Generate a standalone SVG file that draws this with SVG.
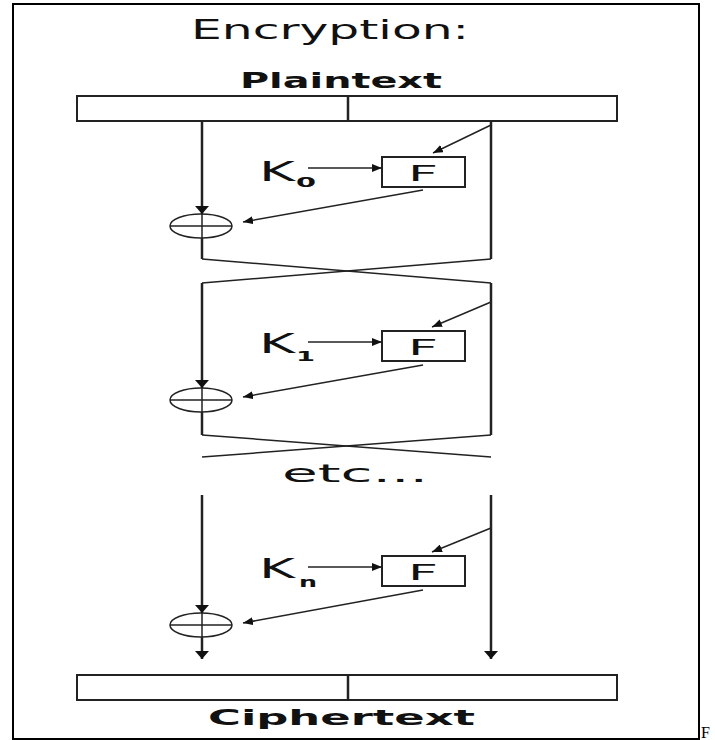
<svg xmlns="http://www.w3.org/2000/svg" width="715" height="740" viewBox="0 0 715 740">
<style>
.t{font-family:"DejaVu Sans","Liberation Sans",sans-serif;fill:#111}
.b{font-weight:bold}
.box{fill:#fff;stroke:#222;stroke-width:2}
.v{stroke:#222;stroke-width:2.5;fill:none}
.d{stroke:#222;stroke-width:1.5;fill:none}
.x{fill:none;stroke:#222;stroke-width:1.5}
</style>
<defs>
<marker id="ah" markerUnits="userSpaceOnUse" markerWidth="10" markerHeight="8" refX="10" refY="4" orient="auto">
<path d="M0,0 L10,4 L0,8 z" fill="#111"/>
</marker>
<marker id="av" markerUnits="userSpaceOnUse" markerWidth="8" markerHeight="14" refX="8" refY="7" orient="auto">
<path d="M0,0 L8,7 L0,14 z" fill="#111"/>
</marker>
</defs>
<rect x="13" y="4" width="686" height="735" fill="#fff" stroke="#000" stroke-width="2"/>
<text x="701" y="738" font-family="Liberation Serif,serif" font-size="16" fill="#000">F</text>

<g id="title"><text class="t" x="191" y="39" font-size="27" textLength="278" lengthAdjust="spacingAndGlyphs">Encryption:</text></g>
<g id="plaintext">
<text class="t b" x="240" y="88" font-size="21" textLength="202" lengthAdjust="spacingAndGlyphs">Plaintext</text>
<rect class="box" x="77" y="96" width="540" height="25"/>
<line x1="348" y1="96" x2="348" y2="121" stroke="#222" stroke-width="2.5"/>
</g>
<g id="ciphertext">
<rect class="box" x="77" y="675" width="540" height="25"/>
<line x1="348" y1="675" x2="348" y2="700" stroke="#222" stroke-width="2.5"/>
<text class="t b" x="208" y="725" font-size="21" textLength="267" lengthAdjust="spacingAndGlyphs">Ciphertext</text>
</g>
<g id="etc"><text class="t" x="282" y="482" font-size="24" textLength="146" lengthAdjust="spacingAndGlyphs">etc...</text></g>

<g id="k0"><text class="t" x="259" y="181" font-size="26" textLength="36" lengthAdjust="spacingAndGlyphs">K</text><text class="t b" x="296" y="187" font-size="14" textLength="20" lengthAdjust="spacingAndGlyphs">0</text></g>
<g id="f0"><rect class="box" x="382" y="157" width="83" height="30"/><text class="t" x="408" y="181" font-size="22" textLength="30" lengthAdjust="spacingAndGlyphs" fill="#333">F</text></g>
<g id="xor0"><ellipse class="x" cx="201" cy="226" rx="31" ry="12"/><line class="x" x1="170" y1="226" x2="232" y2="226"/><line class="x" x1="202" y1="214" x2="202" y2="238"/></g>

<g id="k1"><text class="t" x="259" y="353" font-size="26" textLength="36" lengthAdjust="spacingAndGlyphs">K</text><text class="t b" x="296" y="361" font-size="14" textLength="19" lengthAdjust="spacingAndGlyphs">1</text></g>
<g id="f1"><rect class="box" x="382" y="331" width="83" height="30"/><text class="t" x="408" y="355" font-size="22" textLength="30" lengthAdjust="spacingAndGlyphs" fill="#333">F</text></g>
<g id="xor1"><ellipse class="x" cx="201" cy="400" rx="31" ry="12"/><line class="x" x1="170" y1="400" x2="232" y2="400"/><line class="x" x1="202" y1="388" x2="202" y2="412"/></g>

<g id="kn"><text class="t" x="259" y="578" font-size="26" textLength="36" lengthAdjust="spacingAndGlyphs">K</text><text class="t b" x="299" y="587" font-size="14" textLength="18" lengthAdjust="spacingAndGlyphs">n</text></g>
<g id="fn"><rect class="box" x="382" y="556" width="83" height="30"/><text class="t" x="408" y="580" font-size="22" textLength="30" lengthAdjust="spacingAndGlyphs" fill="#333">F</text></g>
<g id="xorn"><ellipse class="x" cx="201" cy="625" rx="31" ry="12"/><line class="x" x1="170" y1="625" x2="232" y2="625"/><line class="x" x1="202" y1="613" x2="202" y2="637"/></g>

<g id="connectors">
<!-- round 0 -->
<line class="v" x1="202" y1="121" x2="202" y2="214" marker-end="url(#av)"/>
<line class="v" x1="202" y1="238" x2="202" y2="259"/>
<line class="v" x1="491" y1="121" x2="491" y2="259"/>
<line class="d" x1="491" y1="125" x2="433" y2="153" marker-end="url(#ah)"/>
<line class="d" x1="308" y1="168" x2="382" y2="168" marker-end="url(#ah)"/>
<line class="d" x1="423" y1="190" x2="243" y2="222" marker-end="url(#ah)"/>
<line class="d" x1="202" y1="259" x2="491" y2="283"/>
<line class="d" x1="491" y1="259" x2="202" y2="283"/>
<!-- round 1 -->
<line class="v" x1="202" y1="283" x2="202" y2="388" marker-end="url(#av)"/>
<line class="v" x1="202" y1="412" x2="202" y2="435"/>
<line class="v" x1="491" y1="283" x2="491" y2="435"/>
<line class="d" x1="491" y1="302" x2="432" y2="327" marker-end="url(#ah)"/>
<line class="d" x1="308" y1="342" x2="382" y2="342" marker-end="url(#ah)"/>
<line class="d" x1="423" y1="365" x2="243" y2="397" marker-end="url(#ah)"/>
<line class="d" x1="202" y1="435" x2="491" y2="457"/>
<line class="d" x1="491" y1="435" x2="202" y2="457"/>
<!-- round n -->
<line class="v" x1="202" y1="495" x2="202" y2="613" marker-end="url(#av)"/>
<line class="v" x1="202" y1="637" x2="202" y2="659" marker-end="url(#av)"/>
<line class="v" x1="491" y1="495" x2="491" y2="659" marker-end="url(#av)"/>
<line class="d" x1="491" y1="528" x2="432" y2="552" marker-end="url(#ah)"/>
<line class="d" x1="308" y1="567" x2="382" y2="567" marker-end="url(#ah)"/>
<line class="d" x1="423" y1="590" x2="243" y2="623" marker-end="url(#ah)"/>
</g>
</svg>
